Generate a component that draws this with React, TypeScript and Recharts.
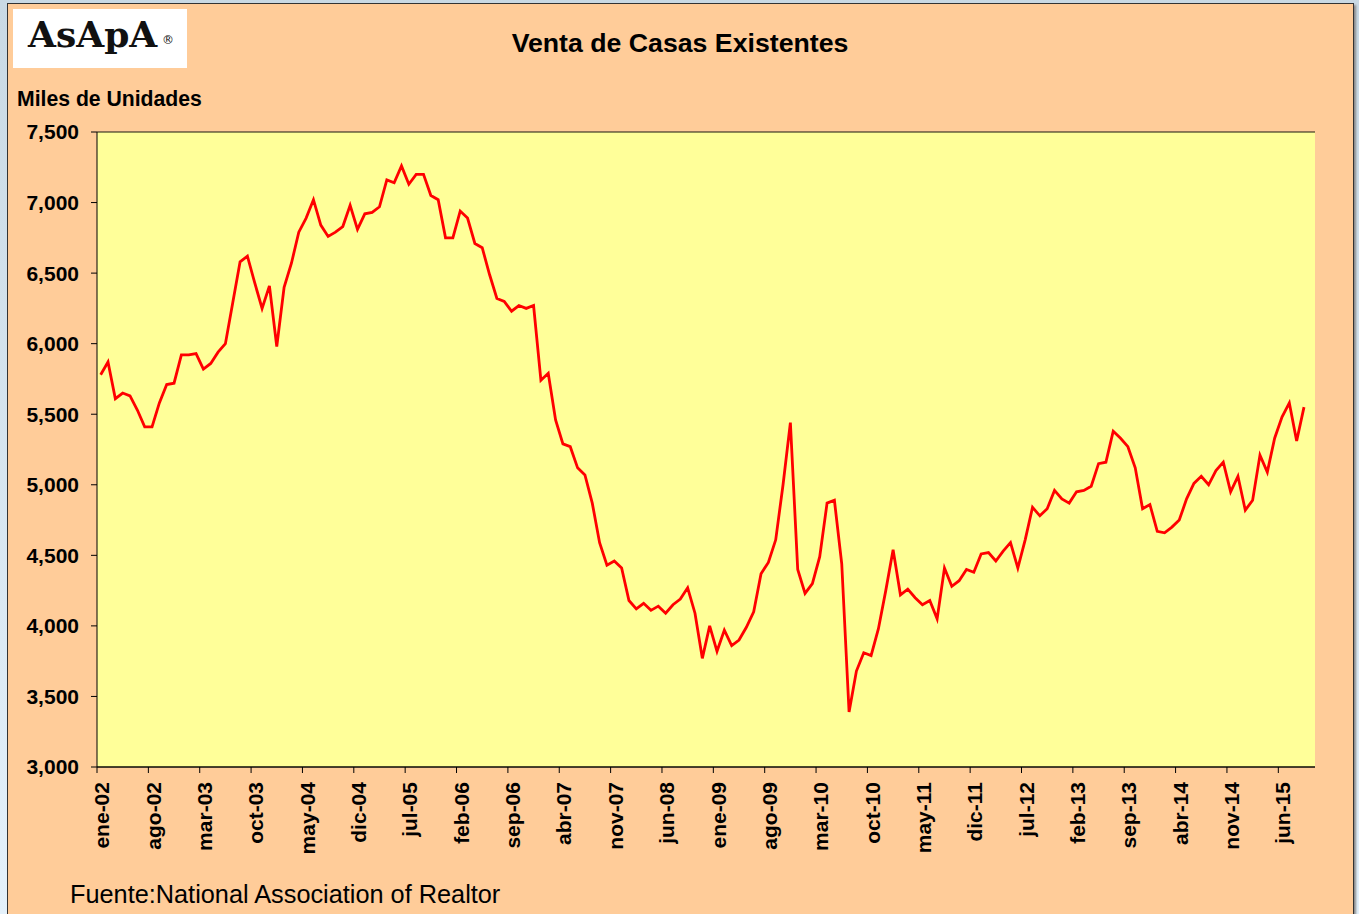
import React from 'react';
import { LineChart, Line, XAxis, YAxis, CartesianGrid } from 'recharts';

const MESES = ['ene', 'feb', 'mar', 'abr', 'may', 'jun', 'jul', 'ago', 'sep', 'oct', 'nov', 'dic'];
const ANIOS = [2002, 2003, 2004, 2005, 2006, 2007, 2008, 2009, 2010, 2011, 2012, 2013, 2014, 2015];

// Excel deja una categoría vacía al final (oct-15)
const categorias = ANIOS.flatMap((a) => MESES.map((m) => `${m}-${String(a).slice(2)}`)).slice(0, 166);

// miles de unidades, ene-02 .. sep-15
const ventas = [
  5780, 5870, 5610, 5650, 5630, 5530, 5410, 5410, 5580, 5710, 5720, 5920,
  5920, 5930, 5820, 5860, 5940, 6000, 6290, 6580, 6620, 6430, 6250, 6410,
  5980, 6400, 6570, 6790, 6890, 7020, 6840, 6760, 6790, 6830, 6980, 6810,
  6920, 6930, 6970, 7160, 7140, 7260, 7130, 7200, 7200, 7050, 7020, 6750,
  6750, 6940, 6890, 6710, 6680, 6490, 6320, 6300, 6230, 6270, 6250, 6270,
  5740, 5790, 5460, 5290, 5270, 5120, 5070, 4870, 4590, 4430, 4460, 4410,
  4180, 4120, 4160, 4110, 4140, 4090, 4150, 4190, 4270, 4090, 3770, 4000,
  3820, 3970, 3860, 3900, 3990, 4100, 4370, 4450, 4610, 5000, 5440, 4400,
  4230, 4300, 4490, 4870, 4890, 4440, 3390, 3680, 3810, 3790, 3980, 4250,
  4540, 4220, 4260, 4200, 4150, 4180, 4050, 4410, 4280, 4320, 4400, 4380,
  4510, 4520, 4460, 4530, 4590, 4410, 4610, 4840, 4780, 4830, 4960, 4900,
  4870, 4950, 4960, 4990, 5150, 5160, 5380, 5330, 5270, 5120, 4830, 4860,
  4670, 4660, 4700, 4750, 4900, 5010, 5060, 5000, 5100, 5160, 4950, 5060,
  4820, 4890, 5210, 5090, 5330, 5480, 5580, 5310, 5550,
];

const yTicks = [3000, 3500, 4000, 4500, 5000, 5500, 6000, 6500, 7000, 7500];

const data = categorias.map((mes, i) => ({ mes, ventas: i < ventas.length ? ventas[i] : null }));

const FONT = '"Liberation Sans", Arial, sans-serif';
const PLOT_W = 1315 - 97;
const SLOT = PLOT_W / categorias.length;

function MesTick({ x, y, payload }: any) {
  const tx = x + 1;
  const ty = y + 15;
  return (
    <g>
      <line x1={x - SLOT / 2} x2={x - SLOT / 2} y1={y} y2={y + 6} stroke="#000" />
      <text
        x={tx}
        y={ty}
        transform={`rotate(-90, ${tx}, ${ty})`}
        textAnchor="end"
        dominantBaseline="central"
        fontSize={21}
        fontWeight="bold"
        fontFamily={FONT}
        fill="#000"
      >
        {payload.value}
      </text>
    </g>
  );
}

export default function App() {
  return (
    <div
      style={{
        position: 'absolute',
        left: 0,
        top: 0,
        width: 1359,
        height: 914,
        overflow: 'hidden',
        background: 'linear-gradient(to bottom, #c9d9e4, #e4f1fb)',
        fontFamily: FONT,
      }}
    >
      <div
        style={{
          position: 'absolute',
          left: 7,
          top: 3,
          width: 1345,
          height: 930,
          background: '#ffcc99',
          border: '1px solid #333',
          boxShadow: '2px 2px 2px #8a8a8a',
        }}
      />
      <div style={{ position: 'absolute', left: 0, top: 0 }}>
        <LineChart
          width={1359}
          height={914}
          data={data}
          margin={{ top: 132, right: 44, bottom: 47, left: 17 }}
        >
          <CartesianGrid
            vertical={false}
            stroke="#000"
            strokeOpacity={0.9}
            fill="#ffff99"
            fillOpacity={1}
          />
          <XAxis
            dataKey="mes"
            interval={6}
            height={100}
            padding={{ left: SLOT / 2, right: SLOT / 2 }}
            tickSize={0}
            tickMargin={0}
            tickLine={false}
            axisLine={{ stroke: '#000' }}
            tick={<MesTick />}
          />
          <YAxis
            yAxisId="l"
            domain={[3000, 7500]}
            ticks={yTicks}
            interval={0}
            width={80}
            tickSize={6}
            tickMargin={12}
            allowDataOverflow
            tickFormatter={(v: number) => v.toLocaleString('en-US')}
            tick={{ fontSize: 21, fontWeight: 'bold', fill: '#000', fontFamily: FONT }}
            axisLine={{ stroke: '#000' }}
            tickLine={{ stroke: '#000' }}
          />
          <YAxis
            yAxisId="r"
            orientation="right"
            domain={[3000, 7500]}
            width={0}
            tick={false}
            tickLine={false}
            axisLine={{ stroke: '#000' }}
          />
          <Line
            yAxisId="l"
            type="linear"
            dataKey="ventas"
            stroke="#ff0000"
            strokeWidth={2.8}
            dot={false}
            isAnimationActive={false}
          />
        </LineChart>
      </div>
      <svg
        width={1359}
        height={914}
        style={{ position: 'absolute', left: 0, top: 0, pointerEvents: 'none' }}
      >
        <rect x={13} y={9} width={174} height={59} fill="#fff" />
        <text x={28} y={47} fontFamily='"DejaVu Serif", serif' fontWeight="bold" fontSize={36} fill="#111">
          AsApA
        </text>
        <text x={162} y={44} fontFamily='"DejaVu Sans", sans-serif' fontSize={12} fill="#111">
          ®
        </text>
        <text x={680} y={52} textAnchor="middle" fontFamily={FONT} fontWeight="bold" fontSize={26.7} fill="#000">
          Venta de Casas Existentes
        </text>
        <text x={17} y={106} fontFamily={FONT} fontWeight="bold" fontSize={21.2} fill="#000">
          Miles de Unidades
        </text>
        <text x={70} y={903} fontFamily={FONT} fontSize={25.3} fill="#000">
          Fuente:National Association of Realtor
        </text>
      </svg>
    </div>
  );
}
